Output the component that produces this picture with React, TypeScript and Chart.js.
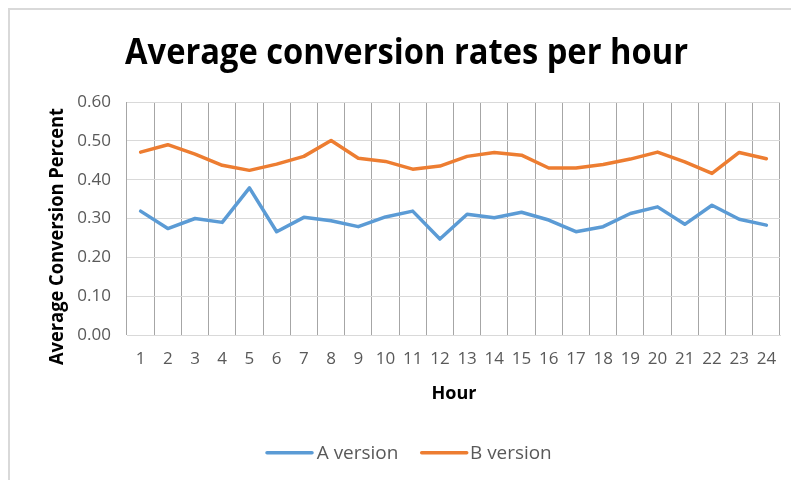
import React, { useEffect, useRef } from "react";
import { Chart, registerables } from "chart.js";

Chart.register(...registerables);

const hours = ["1","2","3","4","5","6","7","8","9","10","11","12","13","14","15","16","17","18","19","20","21","22","23","24"];
const aVersion = [0.319,0.274,0.300,0.290,0.379,0.266,0.303,0.294,0.279,0.304,0.319,0.247,0.311,0.302,0.316,0.296,0.266,0.279,0.313,0.330,0.285,0.334,0.298,0.283];
const bVersion = [0.471,0.490,0.466,0.437,0.424,0.440,0.460,0.501,0.455,0.447,0.427,0.435,0.460,0.470,0.463,0.430,0.430,0.439,0.453,0.471,0.446,0.416,0.470,0.454];
const titleText = "Average conversion rates per hour";
const yTitle = "Average Conversion Percent";
const xTitle = "Hour";
const seriesNames = ["A version", "B version"];
const colors = ["#5B9BD5", "#ED7D31"];

const FONT = "'Open Sans', 'DejaVu Sans', sans-serif";

function fitText(ctx: CanvasRenderingContext2D, text: string, x: number, y: number, w: number) {
  const m = ctx.measureText(text).width;
  const s = w / m;
  ctx.save();
  ctx.translate(x, y);
  ctx.scale(s, 1);
  ctx.fillText(text, 0, 0);
  ctx.restore();
}

const decor = {
  id: "decor",
  afterDraw(chart: any) {
    const ctx: CanvasRenderingContext2D = chart.ctx;
    ctx.save();
    ctx.textBaseline = "alphabetic";
    ctx.textAlign = "left";
    // title
    ctx.fillStyle = "#000000";
    ctx.font = `bold 35px ${FONT}`;
    fitText(ctx, titleText, 115, 53.5, 563);
    // x title
    ctx.font = `bold 18.5px ${FONT}`;
    fitText(ctx, xTitle, 421.5, 389.3, 45);
    // y title
    ctx.save();
    ctx.translate(53, 355);
    ctx.rotate(-Math.PI / 2);
    ctx.font = `bold 19px ${FONT}`;
    fitText(ctx, yTitle, 0, 0, 257);
    ctx.restore();
    // legend
    ctx.font = `18.5px ${FONT}`;
    ctx.fillStyle = "#595959";
    const items = [
      { x0: 257, x1: 302, tx: 306.7, tw: 81.7 },
      { x0: 411.7, x1: 456.7, tx: 460, tw: 81.7 },
    ];
    items.forEach((it, i) => {
      ctx.strokeStyle = colors[i];
      ctx.lineWidth = 3.5;
      ctx.lineCap = "round";
      ctx.beginPath();
      ctx.moveTo(it.x0, 442.7);
      ctx.lineTo(it.x1, 442.7);
      ctx.stroke();
      fitText(ctx, seriesNames[i], it.tx, 449.3, it.tw);
    });
    ctx.restore();
  },
};

export default function App() {
  const ref = useRef<HTMLCanvasElement>(null);
  useEffect(() => {
    if (!ref.current) return;
    const chart = new Chart(ref.current, {
      type: "line",
      data: {
        labels: hours,
        datasets: [
          { label: seriesNames[0], data: aVersion, borderColor: colors[0], backgroundColor: colors[0], borderWidth: 3.5, pointRadius: 0, tension: 0, borderJoinStyle: "round", borderCapStyle: "round" },
          { label: seriesNames[1], data: bVersion, borderColor: colors[1], backgroundColor: colors[1], borderWidth: 3.5, pointRadius: 0, tension: 0, borderJoinStyle: "round", borderCapStyle: "round" },
        ],
      },
      options: {
        animation: false,
        responsive: false,
        maintainAspectRatio: false,
        layout: { padding: { left: 57, top: 92, right: 11, bottom: 105 } },
        plugins: { legend: { display: false }, title: { display: false }, tooltip: { enabled: false } },
        scales: {
          x: {
            type: "category",
            offset: true,
            grid: { offset: true, color: "#a6a6a6", drawTicks: false, lineWidth: 1 },
            border: { display: true, color: "#d9d9d9" },
            ticks: { color: "#595959", font: { family: FONT, size: 17 }, padding: 14, maxRotation: 0, autoSkip: false },
            afterFit: (s: any) => { s.height = 40; },
          },
          y: {
            min: 0,
            max: 0.6,
            grid: { color: "#d9d9d9", drawTicks: false },
            border: { display: false },
            ticks: { stepSize: 0.1, color: "#595959", font: { family: FONT, size: 17 }, padding: 16, callback: (v: any) => Number(v).toFixed(2) },
            afterFit: (s: any) => { s.width = 60; },
          },
        },
      },
      plugins: [decor],
    });
    return () => chart.destroy();
  }, []);
  return (
    <div style={{ position: "fixed", left: 8, top: 8, width: 783, height: 472, borderTop: "2px solid #d9d9d9", borderLeft: "2px solid #d9d9d9", background: "#fff", overflow: "hidden" }}>
      <canvas ref={ref} width={781} height={470} style={{ display: "block", width: 781, height: 470 }} />
    </div>
  );
}
